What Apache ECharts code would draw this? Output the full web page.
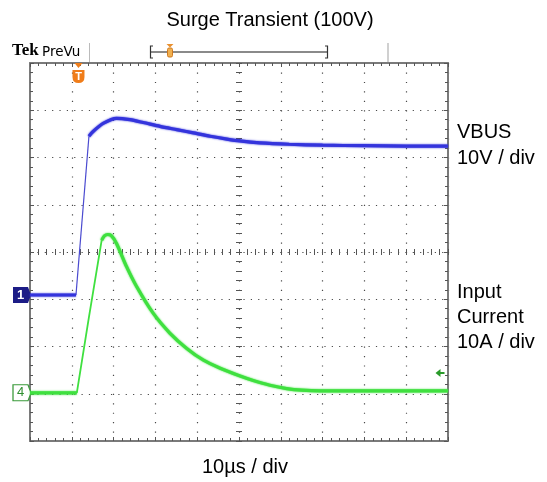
<!DOCTYPE html>
<html><head><meta charset="utf-8">
<script src="https://cdn.jsdelivr.net/npm/echarts/dist/echarts.min.js"></script>
<style>html,body{margin:0;padding:0;background:#fff}#c{width:547px;height:482px}</style>
</head><body><div id="c"></div>
<script>
// ---- Data (time in µs, VBUS in volts, input current in amps) ----
const timeBlue  = [0, 11.0, 14.1, 15.1, 17.5, 20.7, 23.9, 27.1, 31.1, 35.1, 39.1, 43.1, 47.1, 50.2, 55.0, 62, 70, 80, 90, 100];
const vbusVolts = [0, 0,    33.6, 34.6, 36.3, 37.4, 37.1, 36.5, 35.7, 35.0, 34.3, 33.6, 33.0, 32.6, 32.2, 31.9, 31.7, 31.6, 31.5, 31.5];
const timeGreen = [0, 11.2, 14.1, 17.15, 17.8, 18.6, 19.4, 20.7, 23.1, 25.5, 29.5, 33.5, 37.5, 41.5, 45.5, 50.1, 53.4, 57.4, 61.4, 65.0, 69.4, 80, 100];
const inputAmps = [0, 0,    16.0, 32.3, 33.2, 33.5, 33.3, 31.6, 26.7, 22.5, 16.8, 12.6, 9.4, 6.9, 5.2, 3.6, 2.6, 1.6, 0.9, 0.55, 0.4, 0.4, 0.4];

const voltsPerDiv = 10, ampsPerDiv = 10;
const ch1Ground = -0.91;   // divisions from screen centre
const ch4Ground = -2.98;
const triggerTime = 11.6;  // µs
const triggerLevelAmps = 4.2;

const blueY = vbusVolts.map(v => v / voltsPerDiv + ch1Ground);
const greenY = inputAmps.map(a => a / ampsPerDiv + ch4Ground);
const bluePts = timeBlue.map((t, i) => [t, blueY[i]]);
const greenPts = timeGreen.map((t, i) => [t, greenY[i]]);

const BLUE = '#3434dc', GREEN = '#3fe03f';
const FRAME = '#7a7a7a', TICK = '#555';

function frameAxis(pos, split, extra) {
  return Object.assign({
    type: 'value', min: 0, max: 100, interval: 10, position: pos,
    axisLine: { show: true, onZero: false, lineStyle: { color: FRAME, width: 2 } },
    axisTick: { show: true, inside: true, length: 4, lineStyle: { color: TICK } },
    minorTick: { show: true, splitNumber: 5, length: 3, lineStyle: { color: TICK } },
    axisLabel: { show: false },
    splitLine: { show: split, lineStyle: { color: '#4a4a4a', width: 1.2, type: [1.2, 8.25] } }
  }, extra || {});
}
function yFrame(pos, split, extra) {
  return Object.assign({
    type: 'value', min: -4, max: 4, interval: 1, position: pos,
    axisLine: { show: true, onZero: false, lineStyle: { color: FRAME, width: 2 } },
    axisTick: { show: true, inside: true, length: 4, lineStyle: { color: TICK } },
    minorTick: { show: true, splitNumber: 5, length: 3, lineStyle: { color: TICK } },
    axisLabel: { show: false },
    splitLine: { show: split, lineStyle: { color: '#4a4a4a', width: 1.2, type: [1.2, 6.16] } }
  }, extra || {});
}
function centerX(inside) {
  return frameAxis('bottom', false, { offset: -189,
    axisLine: { show: false, onZero: false },
    axisTick: { show: true, inside: inside, length: 3, lineStyle: { color: TICK } } });
}
function centerY(inside) {
  return yFrame('left', false, { offset: -209,
    axisLine: { show: false, onZero: false },
    axisTick: { show: true, inside: inside, length: 3, lineStyle: { color: TICK } } });
}

const thick = (c) => ({ color: c, width: 3.2, shadowColor: c, shadowBlur: 2 });
const thin = (c, w) => ({ color: c, width: w });

const option = {
  animation: false,
  grid: { left: 30, top: 63, width: 418, height: 378, show: false },
  xAxis: [frameAxis('bottom', true), frameAxis('top', false), centerX(true), centerX(false)],
  yAxis: [yFrame('left', true), yFrame('right', false), centerY(true), centerY(false)],
  series: [
    { name: 'VBUS base', type: 'line', data: bluePts.slice(0, 2), showSymbol: false, lineStyle: thick(BLUE), z: 5,
      markPoint: { data: [
        { coord: [0, ch1Ground], symbol: 'path://M0,0H15L18,8L15,16H0Z', symbolSize: [18, 16], symbolOffset: [-8, 0],
          itemStyle: { color: '#1c1c86' },
          label: { show: true, formatter: '1', color: '#fff', fontWeight: 'bold', fontSize: 13, offset: [-1.5, 0] } },
        { coord: [triggerTime, 4], symbol: 'path://M2,0H10L6,5Z M0,7H12V14Q12,20 6,20Q0,20 0,14Z', symbolSize: [12, 20], symbolOffset: [0, 10],
          itemStyle: { color: '#f07d1a' },
          label: { show: true, formatter: 'T', color: '#fff', fontWeight: 'bold', fontSize: 11, offset: [0, 3.5] } }
      ] } },
    { name: 'VBUS edge', type: 'line', data: bluePts.slice(1, 3), showSymbol: false, lineStyle: thin('#4a4ad0', 1.2), z: 4 },
    { name: 'VBUS', type: 'line', data: bluePts.slice(2), showSymbol: false, smooth: 0.25, lineStyle: thick(BLUE), z: 5 },
    { name: 'Current base', type: 'line', data: greenPts.slice(0, 2), showSymbol: false, lineStyle: thick(GREEN), z: 5,
      markPoint: { data: [
        { coord: [0, ch4Ground], symbol: 'path://M0,0H15L18,8L15,16H0Z', symbolSize: [18, 16], symbolOffset: [-8, 0],
          itemStyle: { color: '#fff', borderColor: '#3a9a3a', borderWidth: 1.2 },
          label: { show: true, formatter: '4', color: '#2e8e2e', fontSize: 13, offset: [-1.5, 0] } },
        { coord: [100, ch4Ground + triggerLevelAmps / ampsPerDiv], symbol: 'path://M0,4L5,0V3H9V5H5V8Z', symbolSize: [9, 8], symbolOffset: [-8, 0],
          itemStyle: { color: '#2a9a2a' }, label: { show: false } }
      ] } },
    { name: 'Current edge', type: 'line', data: greenPts.slice(1, 4), showSymbol: false, lineStyle: thin(GREEN, 1.8), z: 4 },
    { name: 'Current', type: 'line', data: greenPts.slice(3), showSymbol: false, smooth: 0.25, lineStyle: thick(GREEN), z: 5 }
  ],
  graphic: [
    { type: 'text', style: { text: 'Surge Transient (100V)', x: 270, y: 20, align: 'center', verticalAlign: 'middle', font: '20px "Liberation Sans", Arial, sans-serif', fill: '#000' } },
    { type: 'text', style: { text: '10µs / div', x: 245, y: 467, align: 'center', verticalAlign: 'middle', font: '20px "Liberation Sans", Arial, sans-serif', fill: '#000' } },
    { type: 'text', style: { text: 'VBUS\n10V / div', x: 457, y: 119, lineHeight: 26, verticalAlign: 'top', font: '20px "Liberation Sans", Arial, sans-serif', fill: '#000' } },
    { type: 'text', style: { text: 'Input\nCurrent\n10A / div', x: 457, y: 279.5, lineHeight: 25, verticalAlign: 'top', font: '20px "Liberation Sans", Arial, sans-serif', fill: '#000' } },
    { type: 'text', style: { text: 'Tek', x: 12, y: 51, verticalAlign: 'middle', font: 'bold 17px "Liberation Serif", serif', fill: '#000' } },
    { type: 'text', style: { text: 'PreVu', x: 42, y: 52, verticalAlign: 'middle', font: '13.5px "DejaVu Sans", sans-serif', fill: '#000' } },
    { type: 'line', shape: { x1: 89.5, y1: 43, x2: 89.5, y2: 62 }, style: { stroke: '#bbb', lineWidth: 1 } },
    { type: 'line', shape: { x1: 150, y1: 52, x2: 328, y2: 52 }, style: { stroke: '#8a8a8a', lineWidth: 2 } },
    { type: 'polyline', shape: { points: [[153, 46], [150.5, 46], [150.5, 58], [153, 58]] }, style: { stroke: '#333', lineWidth: 1.2, fill: null } },
    { type: 'polyline', shape: { points: [[325, 46], [327.5, 46], [327.5, 58], [325, 58]] }, style: { stroke: '#333', lineWidth: 1.2, fill: null } },
    { type: 'polygon', shape: { points: [[166.5, 44], [173.5, 44], [170, 47.5]] }, style: { fill: '#e89030' } },
    { type: 'rect', shape: { x: 167.5, y: 48, width: 5, height: 9, r: 1.5 }, style: { fill: '#f0b050', stroke: '#d07a20', lineWidth: 1 } },
    { type: 'line', shape: { x1: 388, y1: 43, x2: 388, y2: 62 }, style: { stroke: '#d0d0d0', lineWidth: 2 } }
  ]
};
echarts.init(document.getElementById('c')).setOption(option);
</script></body></html>
